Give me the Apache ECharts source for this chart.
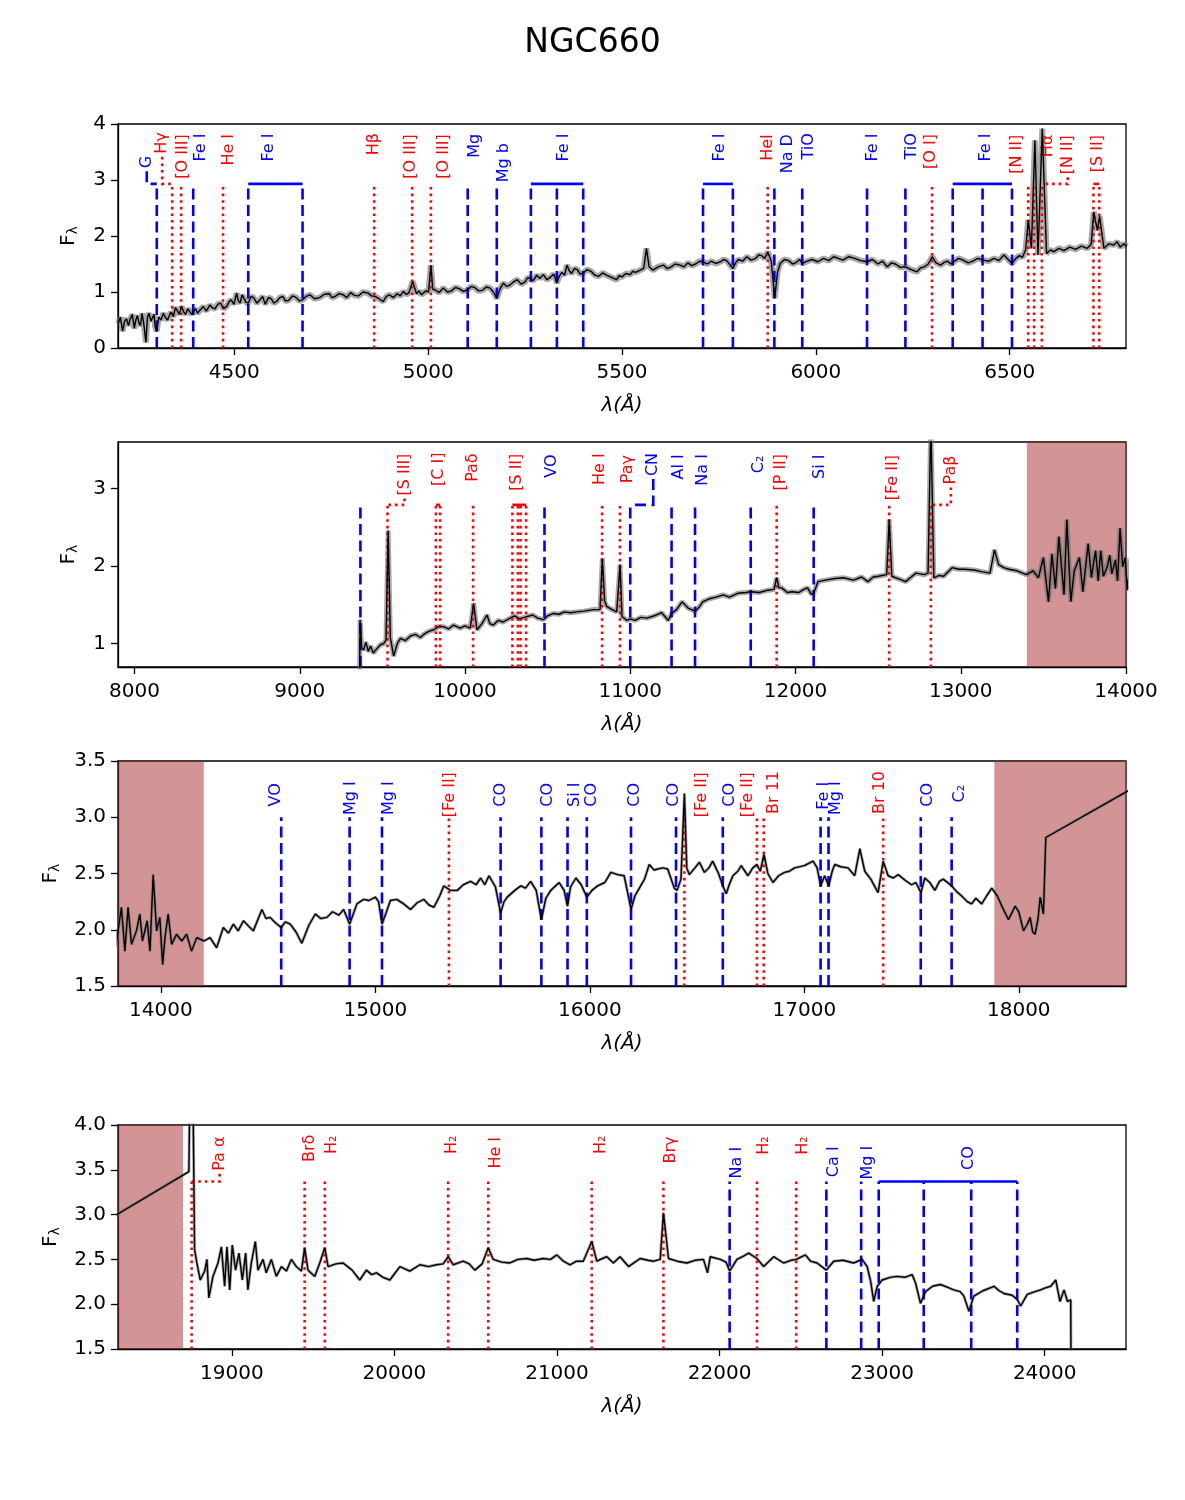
<!DOCTYPE html>
<html>
<head>
<meta charset="utf-8">
<title>NGC660</title>
<script src="https://cdn.jsdelivr.net/npm/echarts@6/dist/echarts.min.js"></script>
<style>
  html, body { margin: 0; background: #fff; }
  #chart { width: 1185px; height: 1500px; }
</style>
</head>
<body>
<div id="chart"></div>
<script>
// ---- spectrum: optical arm (Å, flux) ----
const optWave = [
  4201, 4206, 4212, 4217, 4222, 4227, 4231, 4237, 4242, 4246,
  4250, 4254, 4258, 4262, 4265, 4268, 4272, 4276, 4280, 4285,
  4290, 4293, 4296, 4300, 4305, 4311, 4317, 4322, 4328, 4336,
  4343, 4348, 4352, 4358, 4364, 4369, 4374, 4380, 4385, 4390,
  4394, 4400, 4405, 4412, 4420, 4428, 4437, 4443, 4450, 4457,
  4465, 4472, 4480, 4486, 4492, 4499, 4506, 4510, 4515, 4520,
  4525, 4530, 4536, 4543, 4550, 4558, 4566, 4573, 4580, 4588,
  4595, 4602, 4609, 4617, 4625, 4632, 4640, 4650, 4660, 4668,
  4676, 4685, 4695, 4707, 4720, 4732, 4745, 4752, 4760, 4770,
  4781, 4790, 4800, 4810, 4820, 4832, 4845, 4854, 4863, 4873,
  4884, 4892, 4900, 4910, 4920, 4928, 4936, 4943, 4950, 4960,
  4970, 4976, 4983, 4989, 4995, 5001, 5007, 5012, 5018, 5028,
  5039, 5050, 5060, 5070, 5080, 5091, 5102, 5111, 5120, 5130,
  5140, 5150, 5160, 5168, 5177, 5185, 5194, 5202, 5210, 5220,
  5230, 5240, 5250, 5256, 5263, 5271, 5280, 5288, 5297, 5306,
  5315, 5324, 5332, 5338, 5345, 5352, 5358, 5364, 5370, 5377,
  5385, 5392, 5400, 5410, 5420, 5430, 5440, 5450, 5460, 5473,
  5486, 5493, 5500, 5510, 5521, 5528, 5535, 5547, 5556, 5563,
  5570, 5580, 5593, 5607, 5616, 5625, 5637, 5650, 5660, 5670,
  5680, 5690, 5700, 5709, 5720, 5730, 5742, 5754, 5762, 5770,
  5786, 5793, 5800, 5811, 5822, 5833, 5845, 5852, 5860, 5868,
  5876, 5885, 5894, 5901, 5908, 5919, 5930, 5940, 5950, 5958,
  5965, 5978, 5990, 6005, 6020, 6033, 6046, 6058, 6070, 6085,
  6100, 6116, 6132, 6146, 6160, 6172, 6184, 6195, 6205, 6218,
  6231, 6246, 6261, 6270, 6280, 6290, 6300, 6310, 6322, 6331,
  6340, 6348, 6356, 6368, 6380, 6393, 6405, 6418, 6431, 6446,
  6460, 6472, 6485, 6496, 6506, 6516, 6525, 6533, 6541, 6548,
  6556, 6565, 6573, 6584, 6595, 6605, 6614, 6627, 6640, 6655,
  6670, 6685, 6700, 6710, 6717, 6726, 6732, 6743, 6756, 6769,
  6777, 6785, 6794, 6802
];
const optFlux = [
  0.44, 0.55, 0.30, 0.48, 0.52, 0.40, 0.51, 0.60, 0.35, 0.50,
  0.58, 0.45, 0.40, 0.62, 0.50, 0.35, 0.10, 0.55, 0.62, 0.48,
  0.45, 0.60, 0.38, 0.30, 0.55, 0.50, 0.62, 0.55, 0.50, 0.64,
  0.56, 0.72, 0.68, 0.60, 0.74, 0.65, 0.60, 0.70, 0.68, 0.60,
  0.65, 0.70, 0.62, 0.68, 0.74, 0.66, 0.77, 0.72, 0.70, 0.78,
  0.80, 0.70, 0.74, 0.82, 0.86, 0.78, 0.98, 0.85, 0.80, 0.95,
  0.92, 0.82, 0.80, 0.92, 0.90, 0.80, 0.86, 0.92, 0.78, 0.90,
  0.88, 0.80, 0.83, 0.90, 0.92, 0.84, 0.85, 0.93, 0.90, 0.84,
  0.86, 0.92, 0.95, 0.88, 0.90, 0.96, 0.97, 0.90, 0.92, 0.97,
  0.95, 0.90, 0.99, 0.94, 0.93, 1.00, 0.98, 0.93, 0.92, 0.88,
  0.83, 0.92, 0.95, 0.90, 0.97, 0.93, 1.01, 0.96, 0.98, 1.19,
  0.97, 1.02, 0.95, 0.99, 1.02, 1.00, 1.48, 1.05, 1.04, 0.99,
  1.07, 1.00, 1.02, 1.08, 1.06, 1.01, 1.04, 1.10, 1.08, 1.02,
  1.03, 1.09, 1.07, 1.00, 0.89, 1.05, 1.16, 1.10, 1.12, 1.18,
  1.22, 1.14, 1.18, 1.25, 1.25, 1.20, 1.30, 1.24, 1.31, 1.22,
  1.26, 1.32, 1.16, 1.28, 1.35, 1.30, 1.48, 1.38, 1.33, 1.42,
  1.40, 1.32, 1.34, 1.40, 1.37, 1.30, 1.28, 1.34, 1.30, 1.26,
  1.22, 1.29, 1.27, 1.33, 1.31, 1.37, 1.35, 1.39, 1.42, 1.78,
  1.45, 1.39, 1.45, 1.48, 1.42, 1.44, 1.50, 1.48, 1.45, 1.52,
  1.47, 1.50, 1.55, 1.54, 1.50, 1.55, 1.51, 1.54, 1.58, 1.56,
  1.42, 1.52, 1.58, 1.55, 1.63, 1.57, 1.60, 1.66, 1.65, 1.60,
  1.72, 1.55, 0.89, 1.35, 1.51, 1.58, 1.56, 1.50, 1.53, 1.58,
  1.51, 1.55, 1.58, 1.54, 1.60, 1.56, 1.63, 1.60, 1.57, 1.63,
  1.60, 1.56, 1.54, 1.58, 1.50, 1.55, 1.45, 1.52, 1.50, 1.44,
  1.45, 1.40, 1.36, 1.43, 1.45, 1.50, 1.63, 1.52, 1.48, 1.53,
  1.55, 1.50, 1.54, 1.60, 1.57, 1.52, 1.55, 1.60, 1.57, 1.55,
  1.60, 1.56, 1.66, 1.58, 1.51, 1.60, 1.65, 1.62, 1.75, 2.29,
  1.78, 3.71, 1.66, 3.92, 1.69, 1.75, 1.72, 1.78, 1.74, 1.80,
  1.76, 1.82, 1.78, 1.85, 2.43, 2.10, 2.35, 1.78, 1.86, 1.84,
  1.90, 1.80, 1.86, 1.81
];

// ---- spectrum: near-infrared arm (Å, flux) ----
const nirWave = [
  9362, 9365, 9375, 9387, 9400, 9415, 9428, 9445, 9468, 9490,
  9508, 9522, 9535, 9548, 9568, 9590, 9609, 9640, 9669, 9700,
  9730, 9750, 9780, 9810, 9840, 9870, 9900, 9930, 9971, 10000,
  10032, 10052, 10072, 10100, 10133, 10150, 10172, 10200, 10230, 10273,
  10300, 10330, 10374, 10410, 10440, 10474, 10500, 10535, 10570, 10600,
  10640, 10676, 10720, 10777, 10817, 10831, 10845, 10857, 10890, 10918,
  10938, 10950, 10958, 10980, 11000, 11030, 11063, 11100, 11146, 11190,
  11230, 11250, 11280, 11313, 11350, 11392, 11420, 11438, 11480, 11520,
  11562, 11600, 11650, 11700, 11729, 11780, 11834, 11870, 11886, 11900,
  11917, 11950, 11979, 12020, 12050, 12073, 12095, 12110, 12136, 12180,
  12240, 12291, 12350, 12400, 12438, 12470, 12500, 12552, 12567, 12583,
  12620, 12667, 12700, 12729, 12780, 12802, 12819, 12837, 12870, 12896,
  12948, 12990, 13021, 13080, 13125, 13177, 13204, 13229, 13260, 13292,
  13340, 13396, 13437, 13470, 13500, 13531, 13552, 13573, 13594, 13625,
  13642, 13666, 13687, 13718, 13739, 13771, 13791, 13800, 13816, 13832,
  13847, 13863, 13886, 13902, 13914, 13936, 13949, 13964, 13980, 13995,
  14008, 14019, 14034, 14050, 14073, 14097, 14120, 14143, 14167, 14201,
  14229, 14260, 14291, 14315, 14338, 14360, 14385, 14410, 14431, 14471,
  14490, 14509, 14535, 14561, 14580, 14603, 14630, 14657, 14690, 14720,
  14745, 14774, 14800, 14830, 14852, 14880, 14914, 14945, 14970, 15000,
  15015, 15031, 15050, 15070, 15100, 15132, 15164, 15195, 15226, 15250,
  15273, 15300, 15319, 15350, 15382, 15410, 15444, 15470, 15491, 15510,
  15530, 15560, 15584, 15600, 15615, 15650, 15678, 15700, 15724, 15750,
  15774, 15795, 15818, 15857, 15880, 15896, 15910, 15935, 15960, 15986,
  16010, 16036, 16070, 16098, 16130, 16160, 16184, 16192, 16210, 16231,
  16255, 16277, 16300, 16316, 16340, 16363, 16394, 16407, 16425, 16441,
  16452, 16464, 16490, 16511, 16534, 16555, 16573, 16600, 16620, 16636,
  16650, 16667, 16690, 16706, 16737, 16760, 16779, 16795, 16812, 16830,
  16854, 16880, 16908, 16930, 16955, 17000, 17041, 17060, 17076, 17095,
  17114, 17130, 17142, 17170, 17204, 17235, 17259, 17275, 17282, 17310,
  17344, 17368, 17391, 17415, 17438, 17470, 17500, 17520, 17544, 17562,
  17585, 17609, 17630, 17648, 17687, 17710, 17734, 17760, 17780, 17800,
  17827, 17850, 17874, 17900, 17921, 17952, 17983, 18000, 18022, 18040,
  18053, 18065, 18076, 18090, 18100, 18115, 18126, 18736, 18752, 18771,
  18785, 18806, 18833, 18847, 18859, 18884, 18915, 18936, 18956, 18970,
  18987, 19003, 19023, 19044, 19065, 19085, 19099, 19120, 19145, 19161,
  19192, 19212, 19243, 19274, 19305, 19336, 19366, 19397, 19428, 19448,
  19469, 19510, 19541, 19572, 19592, 19640, 19684, 19740, 19787, 19828,
  19860, 19890, 19930, 19972, 20034, 20095, 20157, 20210, 20260, 20300,
  20331, 20362, 20423, 20460, 20495, 20540, 20577, 20608, 20660, 20711,
  20760, 20814, 20860, 20916, 20960, 20999, 21040, 21080, 21120, 21162,
  21214, 21245, 21280, 21307, 21347, 21388, 21440, 21512, 21560, 21594,
  21635, 21655, 21686, 21740, 21799, 21850, 21901, 21926, 21943, 22004,
  22040, 22062, 22107, 22150, 22179, 22230, 22271, 22333, 22394, 22440,
  22472, 22528, 22560, 22600, 22657, 22702, 22760, 22825, 22877, 22908,
  22930, 22948, 22970, 23000, 23050, 23093, 23140, 23185, 23205, 23236,
  23267, 23310, 23359, 23400, 23441, 23480, 23503, 23534, 23564, 23620,
  23688, 23720, 23749, 23800, 23832, 23852, 23893, 23940, 23975, 24000,
  24037, 24068, 24094, 24119, 24140, 24160, 24165
];
const nirFlux = [
  0.55, 1.31, 0.95, 0.92, 1.02, 0.90, 0.97, 0.88, 0.94, 0.99,
  1.00, 1.05, 2.46, 1.08, 0.84, 1.00, 1.07, 1.04, 1.10, 1.12,
  1.08, 1.12, 1.16, 1.18, 1.22, 1.22, 1.19, 1.24, 1.20, 1.23,
  1.20, 1.52, 1.18, 1.25, 1.37, 1.26, 1.24, 1.30, 1.28, 1.33,
  1.36, 1.32, 1.35, 1.37, 1.33, 1.31, 1.36, 1.39, 1.38, 1.41,
  1.40, 1.41, 1.42, 1.44, 1.44, 2.10, 1.55, 1.48, 1.44, 1.41,
  2.02, 1.35, 1.33, 1.30, 1.32, 1.30, 1.34, 1.33, 1.36, 1.40,
  1.30, 1.39, 1.44, 1.54, 1.46, 1.42, 1.48, 1.54, 1.58, 1.60,
  1.63, 1.60, 1.65, 1.66, 1.67, 1.66, 1.69, 1.70, 1.85, 1.72,
  1.72, 1.66, 1.67, 1.66, 1.70, 1.72, 1.64, 1.65, 1.80, 1.82,
  1.84, 1.85, 1.82, 1.86, 1.80, 1.86, 1.87, 1.89, 2.60, 1.87,
  1.84, 1.80, 1.86, 1.91, 1.89, 1.91, 3.85, 1.85, 1.88, 1.87,
  1.98, 1.96, 1.96, 1.95, 1.93, 1.91, 2.21, 2.02, 1.98, 1.96,
  1.94, 1.89, 1.94, 1.85, 2.11, 1.54, 2.16, 1.71, 2.38, 1.63,
  2.60, 1.54, 1.94, 2.11, 1.67, 2.29, 1.85, 1.99, 2.20, 1.81,
  2.20, 1.87, 1.99, 2.14, 1.90, 2.08, 1.81, 2.49, 1.99, 2.11,
  1.69, 1.93, 2.14, 1.87, 1.96, 1.90, 1.96, 1.81, 1.93, 1.90,
  1.93, 1.84, 2.02, 1.97, 2.05, 1.99, 2.08, 2.03, 1.99, 2.18,
  2.10, 2.11, 2.06, 2.02, 2.07, 2.05, 1.98, 1.88, 2.04, 2.14,
  2.10, 2.11, 2.16, 2.13, 2.18, 2.05, 2.23, 2.27, 2.26, 2.29,
  2.25, 2.05, 2.15, 2.26, 2.27, 2.23, 2.18, 2.24, 2.27, 2.22,
  2.20, 2.30, 2.39, 2.35, 2.35, 2.40, 2.43, 2.40, 2.46, 2.40,
  2.48, 2.38, 2.15, 2.25, 2.29, 2.35, 2.39, 2.37, 2.43, 2.35,
  2.09, 2.28, 2.35, 2.42, 2.35, 2.21, 2.38, 2.46, 2.40, 2.29,
  2.35, 2.39, 2.42, 2.51, 2.49, 2.48, 2.26, 2.18, 2.30, 2.37,
  2.45, 2.58, 2.53, 2.54, 2.55, 2.54, 2.37, 2.35, 2.45, 3.21,
  2.55, 2.49, 2.55, 2.60, 2.51, 2.55, 2.61, 2.50, 2.39, 2.32,
  2.40, 2.48, 2.52, 2.57, 2.48, 2.55, 2.58, 2.52, 2.67, 2.50,
  2.42, 2.48, 2.51, 2.52, 2.55, 2.57, 2.61, 2.55, 2.39, 2.48,
  2.39, 2.52, 2.58, 2.56, 2.55, 2.48, 2.72, 2.58, 2.52, 2.45,
  2.33, 2.61, 2.48, 2.46, 2.49, 2.44, 2.40, 2.42, 2.33, 2.46,
  2.42, 2.35, 2.43, 2.45, 2.39, 2.34, 2.30, 2.25, 2.23, 2.28,
  2.23, 2.30, 2.37, 2.30, 2.21, 2.09, 2.21, 2.16, 1.99, 2.05,
  2.11, 1.98, 1.96, 2.10, 2.29, 2.14, 2.82, 3.48, 6.00, 2.61,
  2.46, 2.27, 2.37, 2.50, 2.07, 2.31, 2.46, 2.64, 2.20, 2.64,
  2.16, 2.66, 2.38, 2.57, 2.27, 2.57, 2.16, 2.46, 2.70, 2.38,
  2.50, 2.35, 2.50, 2.31, 2.42, 2.37, 2.50, 2.42, 2.37, 2.63,
  2.38, 2.31, 2.46, 2.63, 2.42, 2.45, 2.46, 2.38, 2.27, 2.38,
  2.33, 2.35, 2.30, 2.27, 2.42, 2.37, 2.44, 2.42, 2.44, 2.45,
  2.53, 2.44, 2.48, 2.45, 2.38, 2.45, 2.63, 2.50, 2.47, 2.46,
  2.50, 2.51, 2.49, 2.51, 2.50, 2.55, 2.48, 2.44, 2.48, 2.48,
  2.70, 2.48, 2.51, 2.53, 2.46, 2.53, 2.42, 2.51, 2.49, 2.48,
  2.50, 3.02, 2.51, 2.48, 2.46, 2.49, 2.50, 2.35, 2.53, 2.50,
  2.47, 2.37, 2.50, 2.54, 2.57, 2.51, 2.42, 2.53, 2.46, 2.49,
  2.50, 2.55, 2.48, 2.46, 2.38, 2.48, 2.49, 2.46, 2.50, 2.42,
  2.25, 2.03, 2.20, 2.27, 2.30, 2.31, 2.30, 2.33, 2.24, 2.01,
  2.14, 2.20, 2.22, 2.19, 2.16, 2.14, 2.09, 1.92, 2.09, 2.15,
  2.20, 2.15, 2.12, 2.10, 2.05, 1.98, 2.11, 2.14, 2.16, 2.18,
  2.20, 2.27, 2.03, 2.16, 2.03, 2.05, 0.00
];

// ---- line identifications per panel ('e' = emission, 'a' = absorption) ----
const p1Names = ['G', 'Hγ', '[O III]', 'Fe I', 'He I', 'Fe I', 'Hβ', '[O III]', '[O III]', 'Mg', 'Mg b', 'Fe I',
  'Fe I', 'HeI', 'Na D', 'TiO', 'Fe I', 'TiO', '[O I]', 'Fe I', '[N II]', 'Hα', '[N II]', '[S II]'];
const p1Kinds = ['a', 'e', 'e', 'a', 'e', 'a', 'e', 'e', 'e', 'a', 'a', 'a',
  'a', 'e', 'a', 'a', 'a', 'a', 'e', 'a', 'e', 'e', 'e', 'e'];
const p1Waves = [[4300], [4340], [4363], [4394], [4471], [4536, 4676], [4861], [4959], [5007], [5102], [5177], [5265, 5332, 5400],
  [5709, 5786], [5876], [5893], [5965], [6132], [6231], [6300], [6353, 6430, 6506], [6548], [6563], [6583], [6716, 6731]];

const p2Names = ['', '[S III]', '[C I]', 'Paδ', '[S II]', 'VO', 'He I', 'Paγ', 'CN', 'Al I', 'Na I', 'C₂', '[P II]', 'Si I', '[Fe II]', 'Paβ'];
const p2Kinds = ['a', 'e', 'e', 'e', 'e', 'a', 'e', 'e', 'a', 'a', 'a', 'a', 'e', 'a', 'e', 'e'];
const p2Waves = [[9367], [9531], [9824, 9850], [10049], [10287, 10320, 10336, 10370], [10481], [10830], [10938], [11000],
  [11250], [11392], [11729], [11886], [12110], [12567], [12819]];

const p3Names = ['VO', 'Mg I', 'Mg I', '[Fe II]', 'CO', 'CO', 'Si I', 'CO', 'CO', 'CO', '[Fe II]', 'CO', '[Fe II]', 'Br 11',
  'Fe I', 'Mg I', 'Br 10', 'CO', 'C₂'];
const p3Kinds = ['a', 'a', 'a', 'e', 'a', 'a', 'a', 'a', 'a', 'a', 'e', 'a', 'e', 'e', 'a', 'a', 'e', 'a', 'a'];
const p3Waves = [[14561], [14880], [15031], [15343], [15584], [15774], [15896], [15986], [16192], [16402], [16441], [16620],
  [16779], [16811], [17076], [17113], [17368], [17543], [17687]];

const p4Names = ['Pa α', 'Brδ', 'H₂', 'H₂', 'He I', 'H₂', 'Brγ', 'Na I', 'H₂', 'H₂', 'Ca I', 'Mg I', 'CO'];
const p4Kinds = ['e', 'e', 'e', 'e', 'e', 'e', 'e', 'a', 'e', 'e', 'a', 'a', 'a'];
const p4Waves = [[18753], [19448], [19572], [20331], [20578], [21214], [21655], [22062], [22230], [22472], [22657], [22871],
  [22979, 23256, 23548, 23831]];

// masked (telluric) regions
const shades = [[], [[13400, 14000]], [[13800, 14200], [17886, 18500]], [[18300, 18700]]];

// axes
const xRanges = [[4200, 6800], [7900, 14000], [13800, 18500], [18300, 24500]];
const yRanges = [[0, 4], [0.7, 3.6], [1.5, 3.5], [1.5, 4.0]];
const xTicks = [
  [4500, 5000, 5500, 6000, 6500],
  [8000, 9000, 10000, 11000, 12000, 13000, 14000],
  [14000, 15000, 16000, 17000, 18000],
  [19000, 20000, 21000, 22000, 23000, 24000]
];
const yTicks = [[0, 1, 2, 3, 4], [1, 2, 3], [1.5, 2.0, 2.5, 3.0, 3.5], [1.5, 2.0, 2.5, 3.0, 3.5, 4.0]];

// ---- layout: label offsets (px from line) and label centres (data y) ----
const p1Dx = [-10, -10, 2, 8, 6, -7, 0, -1, 13, 7, 7, 7, 2, 0, 13, 7, 6, 6, -1, 3, -11, 14, 26, 2];
const p1Ly = [3.32, 3.66, 3.42, 3.58, 3.54, 3.58, 3.64, 3.42, 3.42, 3.61, 3.31, 3.58, 3.58, 3.58, 3.47, 3.6, 3.58, 3.6,
  3.51, 3.58, 3.46, 3.61, 3.45, 3.47];
const p2Dx = [0, 17, 1, 0, -2, 7, -2, 8, 23, 7, 8, 8, 4, 6, 4, 20];
const p2Ly = [0, 3.18, 3.25, 3.27, 3.21, 3.29, 3.25, 3.25, 3.31, 3.28, 3.24, 3.31, 3.21, 3.28, 3.14, 3.24];
const p3Dx = [-5, 1, 7, 1, 0, 6, 7, 5, 4, -2, 17, 7, -9, 10, 3, 7, -3, 7, 8];
const p3Ly = [3.2, 3.17, 3.17, 3.2, 3.2, 3.2, 3.2, 3.2, 3.2, 3.2, 3.2, 3.2, 3.2, 3.22, 3.19, 3.17, 3.22, 3.2, 3.21];
const p4Dx = [28, 5, 7, 4, 7, 9, 7, 7, 7, 7, 7, 7, 21];
const p4Ly = [3.68, 3.74, 3.78, 3.78, 3.69, 3.78, 3.72, 3.58, 3.77, 3.77, 3.59, 3.58, 3.63];

const FONT = 'DejaVu Sans';
const RED = '#ff0000';
const BLUE = '#0000ff';
const DOT = [2.6, 4];
const DASH = [11, 5.5];
const LW = 2.6;

const measureCtx = document.createElement('canvas').getContext('2d');
measureCtx.font = '16px "DejaVu Sans"';
function textLen(s) { return measureCtx.measureText(s).width; }

const grids = [
  { left: 118, top: 124, width: 1008, height: 224 },
  { left: 118, top: 442, width: 1008, height: 225 },
  { left: 118, top: 761, width: 1008, height: 225 },
  { left: 118, top: 1125, width: 1008, height: 224 }
].map(g => Object.assign(g, { show: true, borderColor: '#000', borderWidth: 1.3 }));

function markerSeries(k, names, kinds, waves, top, dx, ly, conn) {
  const yMin = yRanges[k][0];
  return {
    type: 'custom',
    coordinateSystem: 'cartesian2d',
    xAxisIndex: k,
    yAxisIndex: k,
    z: 3,
    silent: true,
    clip: true,
    data: waves.map((w, i) => [w[0], top, i]),
    encode: { x: 0, y: 1 },
    renderItem: function (params, api) {
      const i = api.value(2);
      const ws = waves[i];
      const em = kinds[i] === 'e';
      const color = em ? RED : BLUE;
      const dash = em ? DOT : DASH;
      const yTop = api.coord([ws[0], top])[1];
      const yBot = api.coord([ws[0], yMin])[1];
      const xs = ws.map(w => api.coord([w, top])[0]);
      const children = xs.map(x => ({
        type: 'line',
        shape: { x1: x, y1: yBot, x2: x, y2: yTop },
        style: { stroke: color, lineWidth: LW, lineDash: dash }
      }));
      if (xs.length > 1) {
        children.push({
          type: 'line',
          shape: { x1: xs[0], y1: yTop, x2: xs[xs.length - 1], y2: yTop },
          style: { stroke: color, lineWidth: LW }
        });
      }
      const xc = (xs[0] + xs[xs.length - 1]) / 2;
      const lx = xc + dx[i];
      const lyPx = api.coord([ws[0], ly[i]])[1];
      if (names[i]) {
        children.push({
          type: 'text',
          x: lx,
          y: lyPx,
          rotation: Math.PI / 2,
          style: { text: names[i], fill: color, fontSize: 16, fontFamily: FONT, align: 'center', verticalAlign: 'middle' }
        });
        if (conn.indexOf(i) >= 0) {
          const yb = lyPx + textLen(names[i]) / 2 + 3;
          children.push({
            type: 'polyline',
            shape: { points: [[lx, yb], [lx, yTop], [xc, yTop]] },
            style: { stroke: color, lineWidth: LW, lineDash: dash, fill: null }
          });
        }
      }
      return { type: 'group', children: children };
    }
  };
}

function spectrumSeries(k, wave, flux, bandWidth) {
  const pairs = wave.map((w, i) => [w, flux[i]]);
  const band = {
    type: 'line',
    xAxisIndex: k,
    yAxisIndex: k,
    data: pairs,
    showSymbol: false,
    silent: true,
    z: 2,
    lineStyle: { color: 'rgba(110,110,110,0.6)', width: bandWidth }
  };
  if (shades[k].length) {
    band.markArea = {
      silent: true,
      itemStyle: { color: 'rgba(165,42,42,0.5)' },
      data: shades[k].map(s => [{ xAxis: s[0] }, { xAxis: s[1] }])
    };
  }
  const main = {
    type: 'line',
    xAxisIndex: k,
    yAxisIndex: k,
    data: pairs,
    showSymbol: false,
    silent: true,
    z: 4,
    lineStyle: { color: '#000', width: 1.4 }
  };
  return [band, main];
}

const xAxes = xRanges.map((r, k) => ({
  gridIndex: k,
  type: 'value',
  min: r[0],
  max: r[1],
  name: 'λ(Å)',
  nameLocation: 'middle',
  nameGap: 48,
  nameTextStyle: { fontSize: 20, fontStyle: 'italic', fontFamily: FONT, color: '#000' },
  axisLine: { show: true, lineStyle: { color: '#000', width: 1.3 } },
  axisTick: { show: true, length: 7, lineStyle: { color: '#000', width: 1.3 }, customValues: xTicks[k] },
  axisLabel: {
    customValues: xTicks[k],
    color: '#000',
    fontSize: 20,
    fontFamily: FONT,
    margin: 15,
    formatter: v => String(v)
  },
  splitLine: { show: false }
}));

const yAxes = yRanges.map((r, k) => ({
  gridIndex: k,
  type: 'value',
  min: r[0],
  max: r[1],
  name: '{a|F}{b|λ}',
  nameLocation: 'middle',
  nameGap: k < 2 ? 38 : 56,
  nameTextStyle: {
    rich: {
      a: { fontSize: 20, fontFamily: FONT, color: '#000' },
      b: { fontSize: 14, fontFamily: FONT, color: '#000', padding: [8, 0, 0, 0] }
    }
  },
  axisLine: { show: true, lineStyle: { color: '#000', width: 1.3 } },
  axisTick: { show: true, length: 7, lineStyle: { color: '#000', width: 1.3 }, customValues: yTicks[k] },
  axisLabel: {
    customValues: yTicks[k],
    color: '#000',
    fontSize: 20,
    fontFamily: FONT,
    margin: 12,
    formatter: v => (k < 2 ? String(Math.round(v)) : v.toFixed(1))
  },
  splitLine: { show: false }
}));

const series = [].concat(
  spectrumSeries(0, optWave, optFlux, 6),
  spectrumSeries(1, nirWave, nirFlux, 5),
  spectrumSeries(2, nirWave, nirFlux, 3),
  spectrumSeries(3, nirWave, nirFlux, 3),
  [
    markerSeries(0, p1Names, p1Kinds, p1Waves, 2.93, p1Dx, p1Ly, [0, 1, 22]),
    markerSeries(1, p2Names, p2Kinds, p2Waves, 2.79, p2Dx, p2Ly, [1, 8, 15]),
    markerSeries(2, p3Names, p3Kinds, p3Waves, 3.0, p3Dx, p3Ly, []),
    markerSeries(3, p4Names, p4Kinds, p4Waves, 3.37, p4Dx, p4Ly, [0])
  ]
);

const chart = echarts.init(document.getElementById('chart'), null, { renderer: 'canvas' });
chart.setOption({
  animation: false,
  backgroundColor: '#fff',
  title: {
    text: 'NGC660',
    left: 'center',
    top: 22,
    textStyle: { fontSize: 33, fontWeight: 'normal', fontFamily: FONT, color: '#000' }
  },
  grid: grids,
  xAxis: xAxes,
  yAxis: yAxes,
  series: series
});
</script>
</body>
</html>
